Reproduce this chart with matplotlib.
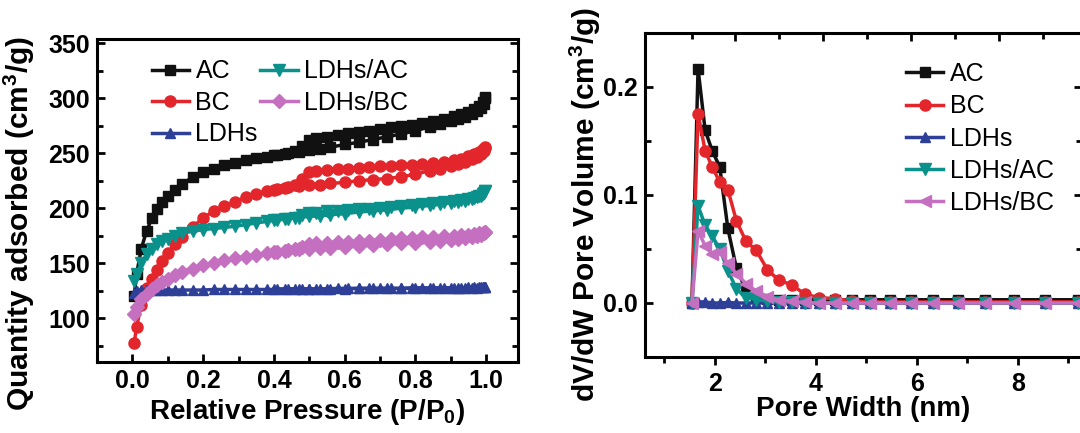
import matplotlib
matplotlib.use('Agg')
import matplotlib.pyplot as plt
from matplotlib.ticker import MultipleLocator, FixedLocator, NullFormatter

plt.rcParams['font.family'] = ['Liberation Sans', 'DejaVu Sans']
plt.rcParams['mathtext.fontset'] = 'custom'
plt.rcParams['mathtext.rm'] = 'Liberation Sans'
plt.rcParams['mathtext.bf'] = 'Liberation Sans:bold'

# ---------------- data: N2 isotherms ----------------
series_names = ['AC', 'BC', 'LDHs', 'LDHs/AC', 'LDHs/BC']

p_ads = [0.005, 0.012, 0.025, 0.04, 0.055, 0.07, 0.085, 0.10, 0.12, 0.14,
         0.17, 0.20, 0.23, 0.26, 0.29, 0.32, 0.35, 0.38, 0.41, 0.44,
         0.47, 0.50, 0.53, 0.56, 0.60, 0.64, 0.68, 0.72, 0.76, 0.80,
         0.84, 0.87, 0.90, 0.92, 0.94, 0.96, 0.975, 0.985, 0.993, 0.998]
p_des = [0.998, 0.99, 0.98, 0.965, 0.95, 0.93, 0.91, 0.88, 0.85, 0.82,
         0.79, 0.76, 0.73, 0.70, 0.67, 0.64, 0.61, 0.58, 0.55, 0.52,
         0.50, 0.48, 0.46, 0.43, 0.40]

ac_ads = [120, 140, 163, 179, 191, 199, 206, 211, 217, 222,
          228, 233, 236, 239, 241.5, 244, 245.5, 247, 248.5, 250,
          251.5, 253, 254, 255.5, 258, 260, 262.5, 265, 267.5, 270.5,
          274, 277, 279.5, 281, 283, 286, 288.5, 291, 295, 300]
bc_ads = [77, 92, 112, 127, 136, 144, 152, 159, 167, 174,
          183, 191, 197.5, 202, 206, 210, 213, 215.5, 217.5, 219,
          220, 221, 221.5, 222.5, 223.5, 225, 226, 227, 228.5, 231,
          234, 236, 238.5, 240, 242, 244.5, 247, 249.5, 252, 255]
ldh_ads = [123, 125, 125.5, 125.5, 125.5, 125.5, 125.5, 125.5, 125.5, 125.5,
           125.5, 125.5, 126, 126, 126, 126, 126, 126, 126, 126.5,
           126.5, 126.5, 126.5, 126.5, 126.5, 127, 127, 127, 127, 127,
           127, 127, 127.5, 127.5, 127.5, 127.5, 127.5, 128, 128, 128]
ldhac_ads = [134, 140, 150, 158, 163, 167, 170, 172, 175, 177,
             179, 180.5, 181.5, 182.5, 183.5, 185, 186.5, 188, 189.5, 190.5,
             191.5, 192.5, 193, 194, 195, 196.5, 197.5, 198.5, 200, 201,
             202.5, 203.5, 205, 206, 207, 208.5, 210, 211.5, 213.5, 216]
ldhbc_ads = [104, 110, 117, 122, 126, 130, 133, 136, 139, 142,
             145, 148, 150.5, 152.5, 154.5, 156, 157.5, 159, 160.5, 161.5,
             162.5, 163, 163.5, 164, 165, 165.5, 166.5, 167, 168, 168.5,
             169.5, 170.5, 171.5, 172, 173, 174, 175, 176, 177, 178]

ac_des = [301, 297, 293, 290, 288, 285.5, 283.5, 281.5, 279.5, 277.5,
          276, 275, 273.5, 272, 270, 269, 268, 266.5, 265, 263.5,
          262.5, 257, 252, 249.5, 248]
bc_des = [256, 254, 251.5, 249, 247.5, 245, 243.5, 242, 241, 240,
          239.5, 239, 238.5, 238, 237.5, 237, 236, 235.5, 235, 234,
          232.5, 227, 221, 218.5, 216.5]
ldh_des = [128, 128, 128, 128, 128, 127.5, 127.5, 127.5, 127.5, 127.5,
           127.5, 127, 127, 127, 127, 127, 127, 127, 126.5, 126.5,
           126.5, 126.5, 126.5, 126.5, 126.5]
ldhac_des = [216, 213, 211, 209.5, 208.5, 207.5, 206.5, 205.5, 204.5, 203.5,
             202.5, 202, 201, 200, 199.5, 199, 198, 197.5, 197, 196,
             195.5, 193.5, 191.5, 190, 189]
ldhbc_des = [178, 177.5, 177, 176.5, 176, 175.5, 175, 174.5, 174, 173.5,
             173, 172.5, 172, 171, 170.5, 170, 169.5, 169, 168.5, 168,
             167.5, 165, 162.5, 161, 160]

# ---------------- data: pore size distribution ----------------
pore_width = [1.55, 1.67, 1.81, 1.95, 2.10, 2.26, 2.43, 2.62, 2.82, 3.04,
              3.27, 3.52, 3.79, 4.07, 4.38, 4.71, 5.07, 5.46, 5.88, 6.33,
              6.82, 7.35, 7.92, 8.53, 9.19, 9.90, 10.6]
ac_psd = [0, 0.217, 0.160, 0.141, 0.126, 0.069, 0.032, 0.012, 0.006, 0.004,
          0.003, 0.003, 0.003, 0.003, 0.003, 0.003, 0.003, 0.003, 0.003, 0.003,
          0.003, 0.003, 0.003, 0.003, 0.003, 0.003, 0.003]
bc_psd = [0, 0.175, 0.141, 0.126, 0.112, 0.105, 0.076, 0.057, 0.049, 0.031,
          0.021, 0.017, 0.008, 0.005, 0.004, 0.002, 0.001, 0.001, 0.001, 0.001,
          0.001, 0.001, 0.001, 0.001, 0.001, 0.001, 0.001]
ldh_psd = [0, 0.001, 0.001, 0, 0, 0.0005, 0, 0, 0, 0,
           0, 0, 0, 0, 0, 0, 0, 0, 0, 0,
           0, 0, 0, 0, 0, 0, 0]
ldhac_psd = [0, 0.090, 0.072, 0.062, 0.050, 0.030, 0.013, 0.005, 0.003, 0.002,
             0.001, 0.0005, 0, 0, 0, 0, 0, 0, 0, 0,
             0, 0, 0, 0, 0, 0, 0]
ldhbc_psd = [0, 0.067, 0.053, 0.045, 0.047, 0.037, 0.027, 0.018, 0.011, 0.006,
             0.003, 0.0015, 0.0005, 0, 0, 0, 0, 0, 0, 0,
             0, 0, 0, 0, 0, 0, 0]

colors = ['#111111', '#e3262b', '#2e3f98', '#0a918b', '#c46fbf']
markers_iso = ['s', 'o', '^', 'v', 'D']
msize_iso = [6.5, 8, 7.5, 8, 7]
markers_psd = ['s', 'o', '^', 'v', '<']
msize_psd = [7, 8, 7.5, 8, 8]

ads_sets = [ac_ads, bc_ads, ldh_ads, ldhac_ads, ldhbc_ads]
des_sets = [ac_des, bc_des, ldh_des, ldhac_des, ldhbc_des]
psd_sets = [ac_psd, bc_psd, ldh_psd, ldhac_psd, ldhbc_psd]

W, H = 1080, 433
fig = plt.figure(figsize=(W / 100, H / 100), dpi=100)

def box(l, t, r, b):
    return [l / W, 1 - b / H, (r - l) / W, (b - t) / H]

tick_fs = 18
xlabel_fs = 20
ylabel_fs = 21.5
leg_fs = 18
lw = 2.5

# ---------------- left panel ----------------
axL = fig.add_axes(box(97, 39, 518, 362))
for name, c, m, ms, ya, yd in zip(series_names, colors, markers_iso, msize_iso, ads_sets, des_sets):
    axL.plot(p_ads, ya, color=c, marker=m, ms=ms, lw=lw, label=name)
    axL.plot(p_des, yd, color=c, marker=m, ms=ms, lw=lw)
axL.set_xlim(-0.1, 1.09)
axL.set_ylim(60, 354)
axL.xaxis.set_major_locator(MultipleLocator(0.2))
axL.xaxis.set_minor_locator(MultipleLocator(0.1))
axL.yaxis.set_major_locator(MultipleLocator(50))
axL.yaxis.set_minor_locator(MultipleLocator(25))
axL.tick_params(which='both', direction='in', left=True, right=True, top=False, bottom=True, width=2)
axL.tick_params(which='major', length=6, labelsize=tick_fs, pad=5)
axL.tick_params(which='minor', length=4)
axL.xaxis.set_major_formatter(matplotlib.ticker.FuncFormatter(lambda v, p: f'{v:.1f}'))
for lab in axL.get_xticklabels() + axL.get_yticklabels():
    lab.set_fontweight('bold')
for s in axL.spines.values():
    s.set_linewidth(2.2)
axL.set_xlabel('Relative Pressure (P/P$_\\mathbf{0}$)', fontsize=xlabel_fs, fontweight='bold', labelpad=3)
axL.set_ylabel('Quantity adsorbed (cm$^\\mathbf{3}$/g)', fontsize=ylabel_fs, fontweight='bold')
axL.yaxis.set_label_coords(-0.143, 0.43)
axL.legend(loc='upper left', bbox_to_anchor=(0.13, 0.937), ncol=2, frameon=False,
           fontsize=leg_fs, handlelength=1.5, handletextpad=0.25, columnspacing=0.1,
           labelspacing=0.3, borderpad=0, borderaxespad=0)

# ---------------- right panel ----------------
axR = fig.add_axes(box(645, 33, 1082, 357))
for name, c, m, ms, y in zip(series_names, colors, markers_psd, msize_psd, psd_sets):
    axR.plot(pore_width, y, color=c, marker=m, ms=ms, lw=lw, label=name)
axR.set_xlim(0.62, 9.27)
axR.set_ylim(-0.05, 0.25)
axR.xaxis.set_major_locator(MultipleLocator(2))
axR.xaxis.set_minor_locator(MultipleLocator(1))
axR.yaxis.set_major_locator(FixedLocator([0.0, 0.1, 0.2]))
axR.yaxis.set_minor_locator(FixedLocator([0.05, 0.15]))
axR.tick_params(axis='x', which='both', direction='out', width=2, top=False)
axR.tick_params(axis='y', which='both', direction='in', width=2, left=True, right=True)
axR.tick_params(which='major', length=6, labelsize=tick_fs, pad=5)
axR.tick_params(which='minor', length=4)
axR.yaxis.set_major_formatter(matplotlib.ticker.FuncFormatter(lambda v, p: f'{v:.1f}'))
for lab in axR.get_xticklabels() + axR.get_yticklabels():
    lab.set_fontweight('bold')
for s in axR.spines.values():
    s.set_linewidth(2.2)
axR.set_xlabel('Pore Width (nm)', fontsize=xlabel_fs, fontweight='bold', labelpad=0)
axR.set_ylabel('dV/dW Pore Volume (cm$^\\mathbf{3}$/g)', fontsize=ylabel_fs, fontweight='bold')
axR.yaxis.set_label_coords(-0.096, 0.47)
axR.legend(loc='upper left', bbox_to_anchor=(0.597, 0.91), frameon=False,
           fontsize=leg_fs, handlelength=1.5, handletextpad=0.25,
           labelspacing=0.33, borderpad=0, borderaxespad=0)

# top ticks of right panel (separate layer scale)
axT = axR.twiny()
axT.set_xlim(axR.get_xlim())
axT.xaxis.set_major_locator(FixedLocator([2.40, 4.14, 5.88, 7.62]))
axT.xaxis.set_minor_locator(FixedLocator([1.55, 3.27, 5.01, 6.75, 8.50]))
axT.xaxis.set_major_formatter(NullFormatter())
axT.tick_params(axis='x', which='both', direction='in', width=2)
axT.tick_params(axis='x', which='major', length=6)
axT.tick_params(axis='x', which='minor', length=4)
for s in axT.spines.values():
    s.set_visible(False)

fig.savefig('out.png', dpi=100)
